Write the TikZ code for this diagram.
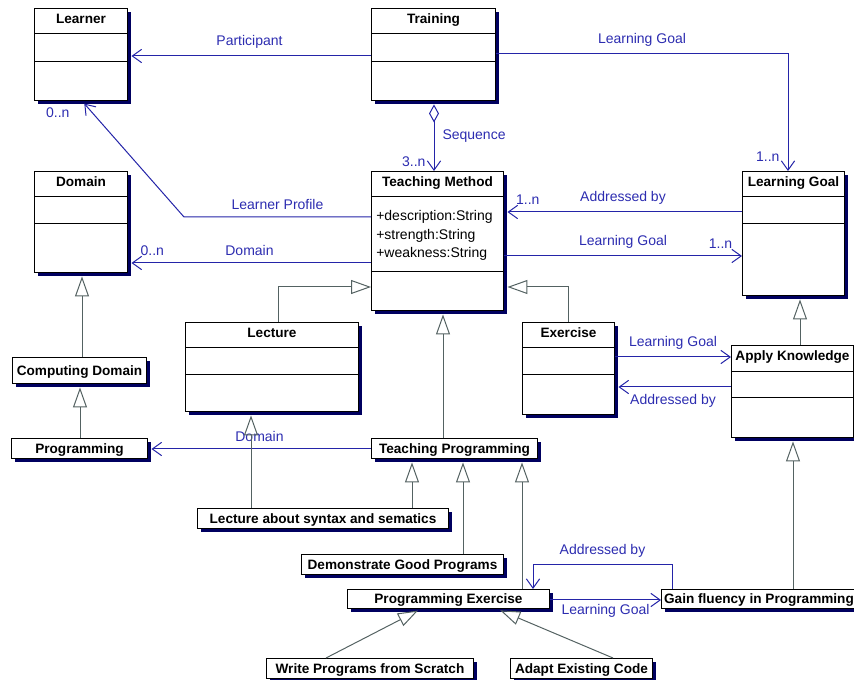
\documentclass[tikz,border=0pt]{standalone}
\usepackage{fontspec}
\setmainfont{Liberation Sans}
\usetikzlibrary{arrows.meta}
\usetikzlibrary{shadows}
\definecolor{shadowblue}{RGB}{0,0,96}
\definecolor{assocblue}{RGB}{36,36,168}
\definecolor{labelblue}{RGB}{44,44,176}
\definecolor{gengray}{RGB}{84,98,98}
\tikzset{box/.style={draw=black, line width=.75pt, fill=white, inner sep=0pt, anchor=north west, text height=7.3pt, text depth=0pt, font=\bfseries\fontsize{10.2}{12}\selectfont, drop shadow={shadow xshift=2.6pt, shadow yshift=-2.6pt, fill=shadowblue, opacity=1}}}
\tikzset{ttl/.style={font=\bfseries\fontsize{10.2}{12}\selectfont, inner sep=0pt, anchor=base}}
\tikzset{attr/.style={font=\fontsize{10.5}{12}\selectfont, inner sep=0pt, anchor=base west}}
\tikzset{sep/.style={draw=black, line width=.75pt}}
\tikzset{lbl/.style={font=\fontsize{10.5}{12}\selectfont, text=labelblue, inner sep=2pt}}
\tikzset{assoc/.style={draw=assocblue, line width=.75pt, -{Straight Barb[length=7pt, width=10pt]}}}
\tikzset{agg/.style={draw=assocblue, line width=.75pt, arrows={Diamond[open, length=13.5pt, width=7.5pt]-Straight Barb[length=7pt, width=10pt]}}}
\tikzset{gen/.style={draw=gengray, line width=.75pt, -{Triangle[open, length=15pt, width=10.5pt]}}}
\tikzset{shd/.style={shorten >=2.6pt}}

\begin{document}
\begin{tikzpicture}[x=0.75pt, y=-0.75pt]
        \useasboundingbox (0,0) rectangle (854,680);
        % classes with compartments
        \node[box, minimum width=69.75pt, minimum height=69pt] (learner) at (34,8) {};
        \node[ttl] (learnerT) at (learner.north |- 0,24) {Learner};
        \draw[sep] (learner.west |- 0,34) -- (learner.east |- 0,34);
        \draw[sep] (learner.west |- 0,62) -- (learner.east |- 0,62);
        \node[box, minimum width=93pt, minimum height=69pt] (training) at (371,8) {};
        \node[ttl] (trainingT) at (training.north |- 0,24) {Training};
        \draw[sep] (training.west |- 0,34) -- (training.east |- 0,34);
        \draw[sep] (training.west |- 0,62) -- (training.east |- 0,62);
        \node[box, minimum width=69.75pt, minimum height=75.75pt] (domain) at (34,171) {};
        \node[ttl] (domainT) at (domain.north |- 0,187) {Domain};
        \draw[sep] (domain.west |- 0,197) -- (domain.east |- 0,197);
        \draw[sep] (domain.west |- 0,224) -- (domain.east |- 0,224);
        \node[box, minimum width=99pt, minimum height=104.25pt] (tm) at (371,171) {};
        \node[ttl] (tmT) at (tm.north |- 0,187) {Teaching Method};
        \draw[sep] (tm.west |- 0,197) -- (tm.east |- 0,197);
        \draw[sep] (tm.west |- 0,272) -- (tm.east |- 0,272);
        \node[attr] (tmA) at (376,221) {+description:String};
        \node[attr] (tmB) at (376,240) {+strength:String};
        \node[attr] (tmC) at (376,258) {+weakness:String};
        \node[box, minimum width=76.5pt, minimum height=93pt] (lg) at (742,171) {};
        \node[ttl] (lgT) at (lg.north |- 0,187) {Learning Goal};
        \draw[sep] (lg.west |- 0,197) -- (lg.east |- 0,197);
        \draw[sep] (lg.west |- 0,224) -- (lg.east |- 0,224);
        \node[box, minimum width=129.75pt, minimum height=66.75pt] (lecture) at (185,322) {};
        \node[ttl] (lectureT) at (lecture.north |- 0,338) {Lecture};
        \draw[sep] (lecture.west |- 0,348) -- (lecture.east |- 0,348);
        \draw[sep] (lecture.west |- 0,375) -- (lecture.east |- 0,375);
        \node[box, minimum width=69pt, minimum height=69pt] (exercise) at (522,322) {};
        \node[ttl] (exerciseT) at (exercise.north |- 0,338) {Exercise};
        \draw[sep] (exercise.west |- 0,348) -- (exercise.east |- 0,348);
        \draw[sep] (exercise.west |- 0,375) -- (exercise.east |- 0,375);
        \node[box, minimum width=91.5pt, minimum height=69pt] (ak) at (731,345) {};
        \node[ttl] (akT) at (ak.north |- 0,361) {Apply Knowledge};
        \draw[sep] (ak.west |- 0,372) -- (ak.east |- 0,372);
        \draw[sep] (ak.west |- 0,398) -- (ak.east |- 0,398);
        % one-line classes
        \node[box, minimum width=100.5pt, minimum height=19.5pt] (cd) at (12,357) {Computing Domain};
        \node[box, minimum width=102pt, minimum height=15pt] (programming) at (11,438) {Programming};
        \node[box, minimum width=124.5pt, minimum height=15pt] (tp) at (371,438) {Teaching Programming};
        \node[box, minimum width=188.25pt, minimum height=15pt] (las) at (197,508) {Lecture about syntax and sematics};
        \node[box, minimum width=151.5pt, minimum height=15pt] (dgp) at (301,554) {Demonstrate Good Programs};
        \node[box, minimum width=151.5pt, minimum height=14.25pt] (pe) at (347,589) {Programming Exercise};
        \node[box, minimum width=146.25pt, minimum height=14.25pt] (gf) at (661,589) {Gain fluency in Programming};
        \node[box, minimum width=155.25pt, minimum height=15pt] (wp) at (266,658) {Write Programs from Scratch};
        \node[box, minimum width=106.5pt, minimum height=15pt] (aec) at (510,658) {Adapt Existing Code};
        % associations
        \draw[assoc, shd] (training.west |- 0,56) -- (learner.east |- 0,56)
          node[lbl, midway, above=3pt] {Participant};
        \draw[assoc] (training.east |- 0,54) -| (788,0 |- lg.north)
          node[lbl, pos=.25, above=3pt] {Learning Goal}
          node[lbl, pos=.94, left=4pt] {1..n};
        \draw[agg, shorten <=2.6pt] (434,0 |- training.south) -- (434,0 |- tm.north)
          node[lbl, midway, right=4pt] {Sequence}
          node[lbl, pos=.87, left=4pt] {3..n};
        \draw[assoc, shd] (tm.west |- 0,217) -- node[lbl, above=3pt] {Learner Profile} (184,217)
          -- (82,0 |- learner.south)
          node[lbl, pos=1, anchor=north east, xshift=-7pt, yshift=-3pt] {0..n};
        \draw[assoc, shd] (tm.west |- 0,263) -- (domain.east |- 0,263)
          node[lbl, midway, above=3pt] {Domain}
          node[lbl, pos=.9, above=3pt] {0..n};
        \draw[assoc, shd] (lg.west |- 0,212) -- (tm.east |- 0,212)
          node[lbl, midway, above=3pt] {Addressed by}
          node[lbl, pos=.9, above=3pt] {1..n};
        \draw[assoc] (tm.east |- 0,256) -- (lg.west |- 0,256)
          node[lbl, midway, above=3pt] {Learning Goal}
          node[lbl, pos=.91, above=3pt] {1..n};
        \draw[assoc] (exercise.east |- 0,357) -- (ak.west |- 0,357)
          node[lbl, midway, above=3pt] {Learning Goal};
        \draw[assoc, shd] (ak.west |- 0,387) -- (exercise.east |- 0,387)
          node[lbl, midway, below=3pt] {Addressed by};
        \draw[assoc, shd] (tp.west |- 0,449) -- (programming.east |- 0,449)
          node[lbl, midway, above=3pt] {Domain};
        \draw[assoc] (pe.east |- 0,600) -- (gf.west |- 0,600)
          node[lbl, midway, below=1pt] {Learning Goal};
        \draw[assoc] (672,0 |- gf.north) -- (672,565) -| (533,0 |- pe.north)
          node[lbl, pos=.25, above=3pt] {Addressed by};
        % generalizations
        \draw[gen] (278,0 |- lecture.north) |- (tm.west |- 0,287);
        \draw[gen, shd] (568,0 |- exercise.north) |- (tm.east |- 0,287);
        \draw[gen, shd] (443,0 |- tp.north) -- (443,0 |- tm.south);
        \draw[gen, shd] (82,0 |- cd.north) -- (82,0 |- domain.south);
        \draw[gen, shd] (80,0 |- programming.north) -- (80,0 |- cd.south);
        \draw[gen, shd] (251,0 |- las.north) -- (251,0 |- lecture.south);
        \draw[gen, shd] (412,0 |- las.north) -- (412,0 |- tp.south);
        \draw[gen, shd] (463,0 |- dgp.north) -- (463,0 |- tp.south);
        \draw[gen, shd] (522,0 |- pe.north) -- (522,0 |- tp.south);
        \draw[gen, shd] (800,0 |- ak.north) -- (800,0 |- lg.south);
        \draw[gen, shd] (793,0 |- gf.north) -- (793,0 |- ak.south);
        \draw[gen, shd] (326,0 |- wp.north) -- (421,0 |- pe.south);
        \draw[gen, shd] (613,0 |- aec.north) -- (497,0 |- pe.south);
      \end{tikzpicture}
\end{document}
